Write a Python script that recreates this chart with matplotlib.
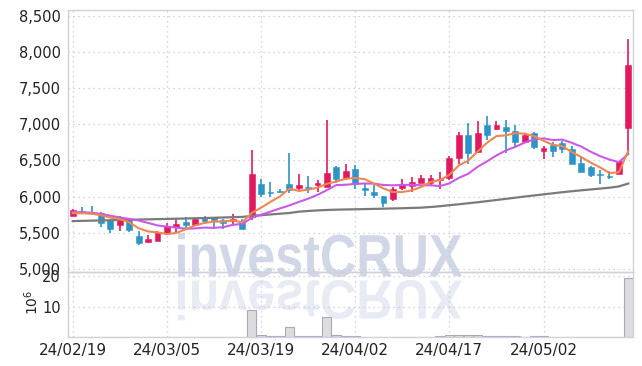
import matplotlib
matplotlib.use("Agg")
import matplotlib.pyplot as plt
import numpy as np
from matplotlib.textpath import TextPath
from matplotlib.font_manager import FontProperties
from matplotlib.patches import PathPatch
from matplotlib.transforms import Affine2D
from matplotlib.ticker import FuncFormatter, FixedLocator

plt.rcParams['font.family'] = ['Liberation Sans Narrow', 'DejaVu Sans']

dates = ['24/02/19', '24/02/20', '24/02/21', '24/02/22', '24/02/23', '24/02/26', '24/02/27', '24/02/28',
         '24/02/29', '24/03/04', '24/03/05', '24/03/06', '24/03/07', '24/03/08', '24/03/11', '24/03/12',
         '24/03/13', '24/03/14', '24/03/15', '24/03/18', '24/03/19', '24/03/20', '24/03/21', '24/03/22',
         '24/03/25', '24/03/26', '24/03/27', '24/03/28', '24/03/29', '24/04/01', '24/04/02', '24/04/03',
         '24/04/04', '24/04/05', '24/04/08', '24/04/09', '24/04/11', '24/04/12', '24/04/15', '24/04/16',
         '24/04/17', '24/04/18', '24/04/19', '24/04/22', '24/04/23', '24/04/24', '24/04/25', '24/04/26',
         '24/04/29', '24/04/30', '24/05/02', '24/05/03', '24/05/07', '24/05/08', '24/05/09', '24/05/10',
         '24/05/13', '24/05/14', '24/05/16', '24/05/17']

open_ = [5736, 5796, 5787, 5768, 5676, 5611, 5685, 5454, 5375, 5389, 5491, 5574, 5653, 5611, 5705, 5705,
         5672, 5658, 5663, 5710, 6175, 6058, 6081, 6175, 6123, 6133, 6165, 6137, 6412, 6263, 6384, 6114,
         6063, 6007, 5965, 6123, 6151, 6193, 6193, 6226, 6254, 6533, 6853, 6612, 6995, 6940, 6958, 6912,
         6750, 6880, 6630, 6708, 6741, 6662, 6463, 6412, 6315, 6282, 6310, 6944]
high = [5829, 5852, 5870, 5787, 5694, 5731, 5694, 5528, 5463, 5518, 5630, 5685, 5713, 5700, 5731, 5715,
        5691, 5765, 5682, 6649, 6240, 6203, 6109, 6602, 6309, 6281, 6230, 7058, 6420, 6453, 6440, 6170,
        6156, 6012, 6128, 6240, 6268, 6305, 6295, 6333, 6556, 6900, 7012, 7040, 7118, 7050, 7062, 6986,
        6870, 6889, 6694, 6750, 6764, 6694, 6546, 6420, 6361, 6347, 6491, 8185]
low = [5727, 5759, 5745, 5574, 5500, 5528, 5509, 5324, 5352, 5380, 5485, 5509, 5546, 5605, 5650, 5555,
       5556, 5603, 5547, 5672, 5998, 5998, 6053, 6053, 6068, 6044, 6063, 6130, 6184, 6230, 6100, 6012,
       5975, 5858, 5942, 6091, 6063, 6184, 6147, 6100, 6230, 6453, 6453, 6602, 6787, 6926, 6602, 6694,
       6741, 6657, 6518, 6546, 6602, 6444, 6333, 6268, 6171, 6245, 6310, 6602]
close = [5815, 5768, 5768, 5639, 5556, 5713, 5537, 5361, 5417, 5491, 5593, 5620, 5611, 5690, 5663, 5672,
         5640, 5682, 5551, 6314, 6040, 6044, 6058, 6091, 6161, 6119, 6184, 6328, 6249, 6356, 6170, 6095,
         6026, 5914, 6105, 6175, 6207, 6258, 6258, 6244, 6537, 6853, 6598, 6881, 6856, 6995, 6903, 6750,
         6852, 6681, 6676, 6625, 6657, 6444, 6333, 6292, 6292, 6268, 6491, 7815]

ma5 = [5770, 5768, 5762, 5742, 5709, 5689, 5643, 5561, 5517, 5504, 5480, 5496, 5546, 5601, 5635, 5651,
       5655, 5669, 5642, 5772, 5845, 5926, 6001, 6109, 6079, 6095, 6123, 6177, 6208, 6247, 6257, 6240,
       6179, 6112, 6062, 6063, 6085, 6132, 6201, 6228, 6301, 6430, 6498, 6623, 6745, 6837, 6847, 6877,
       6871, 6836, 6772, 6717, 6698, 6617, 6547, 6470, 6404, 6326, 6335, 6632]
ma10 = [5785, 5782, 5776, 5760, 5735, 5710, 5690, 5668, 5635, 5600, 5584, 5570, 5554, 5559, 5570, 5566,
        5576, 5608, 5621, 5704, 5748, 5791, 5835, 5876, 5925, 5970, 6024, 6089, 6159, 6163, 6176, 6181,
        6178, 6160, 6155, 6160, 6163, 6156, 6156, 6145, 6182, 6258, 6315, 6412, 6487, 6569, 6638, 6688,
        6747, 6791, 6805, 6782, 6788, 6744, 6692, 6621, 6560, 6512, 6476, 6589]
ma_long = [5660, 5663, 5666, 5669, 5672, 5675, 5678, 5681, 5684, 5687, 5690, 5693, 5696, 5699, 5702, 5706,
           5710, 5714, 5718, 5732, 5742, 5752, 5762, 5772, 5790, 5800, 5808, 5814, 5818, 5821, 5823, 5826,
           5829, 5832, 5835, 5838, 5842, 5846, 5855, 5866, 5880, 5893, 5907, 5921, 5936, 5952, 5968, 5984,
           6000, 6015, 6030, 6045, 6060, 6073, 6086, 6098, 6110, 6122, 6140, 6180]
volume = [0.1, 0.1, 0.1, 0.1, 0.1, 0.1, 0.1, 0.1, 0.1, 0.1, 0.1, 0.1, 0.1, 0.1, 0.1, 0.1,
          0.1, 0.1, 0.1, 9.0, 0.7, 0.4, 0.3, 3.3, 0.3, 0.3, 0.2, 6.5, 0.5, 0.3, 0.2, 0.1,
          0.1, 0.1, 0.1, 0.1, 0.1, 0.1, 0.1, 0.4, 0.6, 0.8, 0.6, 0.6, 0.4, 0.3, 0.2, 0.2,
          0.1, 0.2, 0.2, 0.1, 0.1, 0.1, 0.1, 0.1, 0.1, 0.1, 0.1, 19.5]

UP = '#e3195f'
DOWN = '#2d94c7'
GRID = '#c3c8dc'
SPINE = '#cfd2dc'
W, H = 642, 366

fig = plt.figure(figsize=(W / 100, H / 100), dpi=100)
fig.patch.set_facecolor('white')
ax = fig.add_axes([68 / W, 1 - 272 / H, 565 / W, 262 / H])
axv = fig.add_axes([68 / W, 1 - 337 / H, 565 / W, 65 / H], sharex=ax)
for a in (ax, axv):
    a.set_facecolor('none')
    for s in a.spines.values():
        s.set_color(SPINE)
        s.set_linewidth(1.0)
    a.grid(True, linestyle=(0, (1, 3)), color=GRID, linewidth=0.9)
    a.set_axisbelow(True)
    a.tick_params(length=0, colors='#222222')

x = np.arange(len(dates))
o = np.array(open_); c = np.array(close); h = np.array(high); l = np.array(low)
colors = [UP if cc >= oo else DOWN for oo, cc in zip(o, c)]
ax.vlines(x, l, h, colors=colors, linewidth=1.2, zorder=2)
ax.bar(x, np.maximum(np.abs(c - o), 8), bottom=np.minimum(o, c), width=0.62,
       color=colors, edgecolor=colors, linewidth=0.4, zorder=3)
ax.plot(x, ma_long, color='#7a7a7a', linewidth=1.6, zorder=4)
ax.plot(x, ma10, color='#c95ae8', linewidth=1.5, zorder=5)
ax.plot(x, ma5, color='#ee8750', linewidth=1.5, zorder=6)

ax.set_xlim(-0.5, len(dates) - 0.5)
ax.set_ylim(4955, 8583)
ax.yaxis.set_major_locator(FixedLocator(np.arange(5000, 8501, 500)))
ax.yaxis.set_major_formatter(FuncFormatter(lambda v, p: f'{int(v):,}'))
ax.tick_params(axis='y', labelsize=10.5, pad=5)
ax.tick_params(axis='x', labelbottom=False)

axv.bar(x, volume, width=0.95, color='#dcdce1', edgecolor='#a9a9b3', linewidth=0.8, zorder=2)
axv.set_ylim(0, 21.45)
axv.yaxis.set_major_locator(FixedLocator([10, 20]))
axv.tick_params(axis='y', labelsize=10.5, pad=5)
tick_idx = list(range(0, len(dates), 10))
axv.xaxis.set_major_locator(FixedLocator(tick_idx))
axv.set_xticklabels([dates[i] for i in tick_idx])
axv.tick_params(axis='x', labelsize=11, pad=4)
fig.text(32 / W, 1 - 302 / H, r'$10^6$', rotation=90, ha='center', va='center', fontsize=10, color='#222222')

# watermark with reflection
fp = FontProperties(family=['Liberation Sans Narrow', 'Liberation Sans'], weight='bold')
tp = TextPath((0, 0), 'investCRUX', size=100, prop=fp)
ext = tp.get_extents()
x0, x1, ytop, ybase = 178, 462, 233, 277
sx = (x1 - x0) / ext.width
sy = (ybase - ytop) / ext.height
toF = Affine2D().scale(1 / W, 1 / H) + fig.transFigure
t_main = Affine2D().translate(-ext.x0, -ext.y0).scale(sx, sy).translate(x0, H - ybase)
t_refl = Affine2D().translate(-ext.x0, -ext.y0).scale(sx, -sy * 0.92).translate(x0, H - ybase - 3)
fig.add_artist(PathPatch(t_main.transform_path(tp), transform=toF, facecolor='#cdd3e5',
                         edgecolor='none', alpha=0.9, zorder=-1))
fig.add_artist(PathPatch(t_refl.transform_path(tp), transform=toF, facecolor='#cdd3e5',
                         edgecolor='none', alpha=0.45, zorder=-1))

fig.savefig('out.png', dpi=100)
